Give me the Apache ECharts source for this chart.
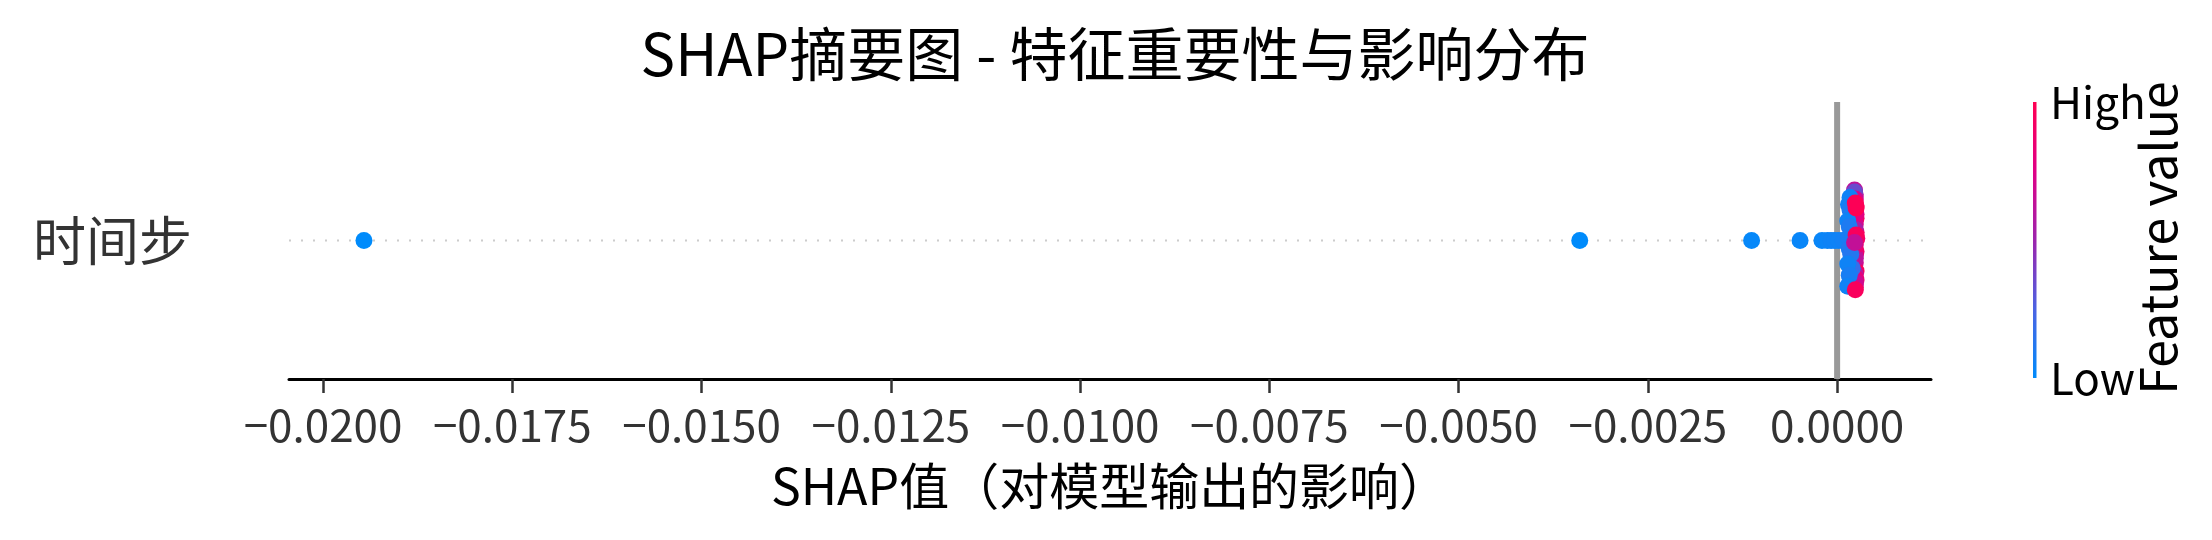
<!DOCTYPE html>
<html>
<head>
<meta charset="utf-8">
<script src="https://cdn.jsdelivr.net/npm/echarts@6/dist/echarts.min.js"></script>
<style>
html,body{margin:0;padding:0;background:#fff;}
#chart{width:2212px;height:540px;}
</style>
</head>
<body>
<div id="chart"></div>
<script>
// ---- data ----
const titleText = 'SHAP摘要图 - 特征重要性与影响分布';
const xAxisLabel = 'SHAP值（对模型输出的影响）';
const features = ['时间步'];
const xRange = [-0.02045, 0.00124];
const tickValues = [-0.02, -0.0175, -0.015, -0.0125, -0.01, -0.0075, -0.005, -0.0025, 0];
const tickLabels = ['−0.0200', '−0.0175', '−0.0150', '−0.0125', '−0.0100', '−0.0075', '−0.0050', '−0.0025', '0.0000'];
// SHAP value of each sample
const shapValues = [
  -0.01946, -0.00340, -0.00113, -0.00049, -0.00020, -0.00013, -0.00008, -0.00003, 0.00002, 0.00008,
  0.00024, 0.00025, 0.00024, 0.00025, 0.00024, 0.00025, 0.00024, 0.00025, 0.00024, 0.00024, 0.00025, 0.00024, 0.00025, 0.00024, 0.00024,
  0.00023, 0.00023, 0.00024, 0.00025, 0.00024, 0.00026, 0.00023, 0.00024, 0.00024, 0.00024,
  0.00017, 0.00015, 0.00017, 0.00014, 0.00016, 0.00015, 0.00016, 0.00018, 0.00020, 0.00014, 0.00016, 0.00014,
  0.00025, 0.00025, 0.00023, 0.00024, 0.00024
];
// vertical beeswarm offset within the row (row spans -0.4..0.4)
const swarmOffsets = [
  0, 0, 0, 0, 0, 0, 0, 0, 0, 0,
  0.33, 0.25, 0.21, 0.16, 0.12, 0.06, -0.03, -0.08, -0.11, -0.16, -0.22, -0.24, -0.285, -0.32, -0.34,
  0.365, 0.35, 0.30, 0.19, 0.08, 0.015, -0.05, -0.13, -0.27, -0.30,
  0.31, 0.26, 0.22, 0.14, 0.10, 0.02, -0.06, -0.10, -0.20, -0.17, -0.25, -0.33,
  0.235, 0.04, -0.015, -0.355, 0.27
];
// normalised feature value (0 = low, 1 = high)
const featureValues = [
  0.0, 0.0, 0.02, 0.03, 0.03, 0.04, 0.05, 0.05, 0.05, 0.06,
  0.6, 0.9, 0.65, 0.95, 0.7, 0.92, 0.75, 0.9, 0.65, 0.7, 0.95, 0.62, 0.9, 0.66, 0.85,
  0.62, 0.35, 0.7, 0.78, 0.55, 0.9, 0.85, 0.62, 0.8, 0.68,
  0.05, 0.06, 0.1, 0.05, 0.1, 0.08, 0.1, 0.12, 0.18, 0.05, 0.08, 0.05,
  1.0, 0.95, 0.64, 0.95, 0.98
];
const colorStops = ['#008bfb', '#4b63e3', '#9c24ad', '#e00086', '#ff0052'];

// ---- chart ----
const FONT = '"Noto Sans CJK SC", "Noto Sans", sans-serif';
const chart = echarts.init(document.getElementById('chart'), null, {renderer: 'canvas'});
const points = shapValues.map((v, i) => [v, swarmOffsets[i], featureValues[i]]);

const option = {
  backgroundColor: '#ffffff',
  animation: false,
  textStyle: {fontFamily: FONT},
  title: {
    text: titleText,
    left: 1110,
    top: 20,
    textAlign: 'center',
    textStyle: {fontFamily: FONT, fontSize: 58, fontWeight: 'normal', color: '#000'}
  },
  grid: {left: 289, right: 281, top: 102, bottom: 161, containLabel: false},
  xAxis: {
    type: 'value',
    min: xRange[0],
    max: xRange[1],
    name: xAxisLabel,
    nameLocation: 'middle',
    nameGap: 82,
    nameTextStyle: {fontFamily: FONT, fontSize: 50, color: '#000'},
    axisLine: {show: true, onZero: false, lineStyle: {color: '#000', width: 3}},
    axisTick: {show: true, customValues: tickValues, length: 14, lineStyle: {color: '#333', width: 2.5}},
    axisLabel: {
      show: true,
      customValues: tickValues,
      margin: 24,
      fontFamily: FONT,
      fontSize: 44,
      color: '#333',
      formatter: function (v) {
        const i = tickValues.findIndex(t => Math.abs(t - v) < 1e-9);
        return i >= 0 ? tickLabels[i] : '';
      }
    },
    splitLine: {show: false}
  },
  yAxis: {
    type: 'value',
    min: -1,
    max: 1,
    axisLine: {show: false},
    axisTick: {show: false},
    splitLine: {show: false},
    axisLabel: {
      show: true,
      customValues: [0],
      margin: 97,
      fontFamily: FONT,
      fontSize: 53,
      color: '#333',
      formatter: function () { return features[0]; }
    }
  },
  visualMap: {
    type: 'continuous',
    show: false,
    min: 0,
    max: 1,
    dimension: 2,
    seriesIndex: 2,
    inRange: {color: colorStops}
  },
  series: [
    {
      type: 'line',
      z: 1,
      silent: true,
      symbol: 'none',
      data: [[xRange[0], 0], [xRange[1], 0]],
      lineStyle: {color: '#cccccc', width: 2, type: [2, 10]}
    },
    {
      type: 'line',
      z: 1,
      silent: true,
      symbol: 'none',
      data: [[0, -1], [0, 1]],
      lineStyle: {color: '#999999', width: 6}
    },
    {
      type: 'scatter',
      z: 3,
      symbol: 'circle',
      symbolSize: 17,
      data: points,
      itemStyle: {opacity: 1}
    }
  ],
  graphic: [
    {
      type: 'rect',
      shape: {x: 2033, y: 102, width: 3.5, height: 276},
      style: {
        fill: {
          type: 'linear', x: 0, y: 0, x2: 0, y2: 1,
          colorStops: [
            {offset: 0, color: colorStops[4]},
            {offset: 0.25, color: colorStops[3]},
            {offset: 0.5, color: colorStops[2]},
            {offset: 0.75, color: colorStops[1]},
            {offset: 1, color: colorStops[0]}
          ]
        }
      }
    },
    {
      type: 'text',
      x: 2050, y: 102,
      style: {text: 'High', fontFamily: FONT, fontSize: 44, fill: '#000', verticalAlign: 'middle', align: 'left'}
    },
    {
      type: 'text',
      x: 2050, y: 378,
      style: {text: 'Low', fontFamily: FONT, fontSize: 44, fill: '#000', verticalAlign: 'middle', align: 'left'}
    },
    {
      type: 'text',
      x: 2158, y: 238,
      rotation: Math.PI / 2,
      style: {text: 'Feature value', fontFamily: FONT, fontSize: 50, fill: '#000', verticalAlign: 'middle', align: 'center'}
    }
  ]
};
chart.setOption(option);
</script>
</body>
</html>
